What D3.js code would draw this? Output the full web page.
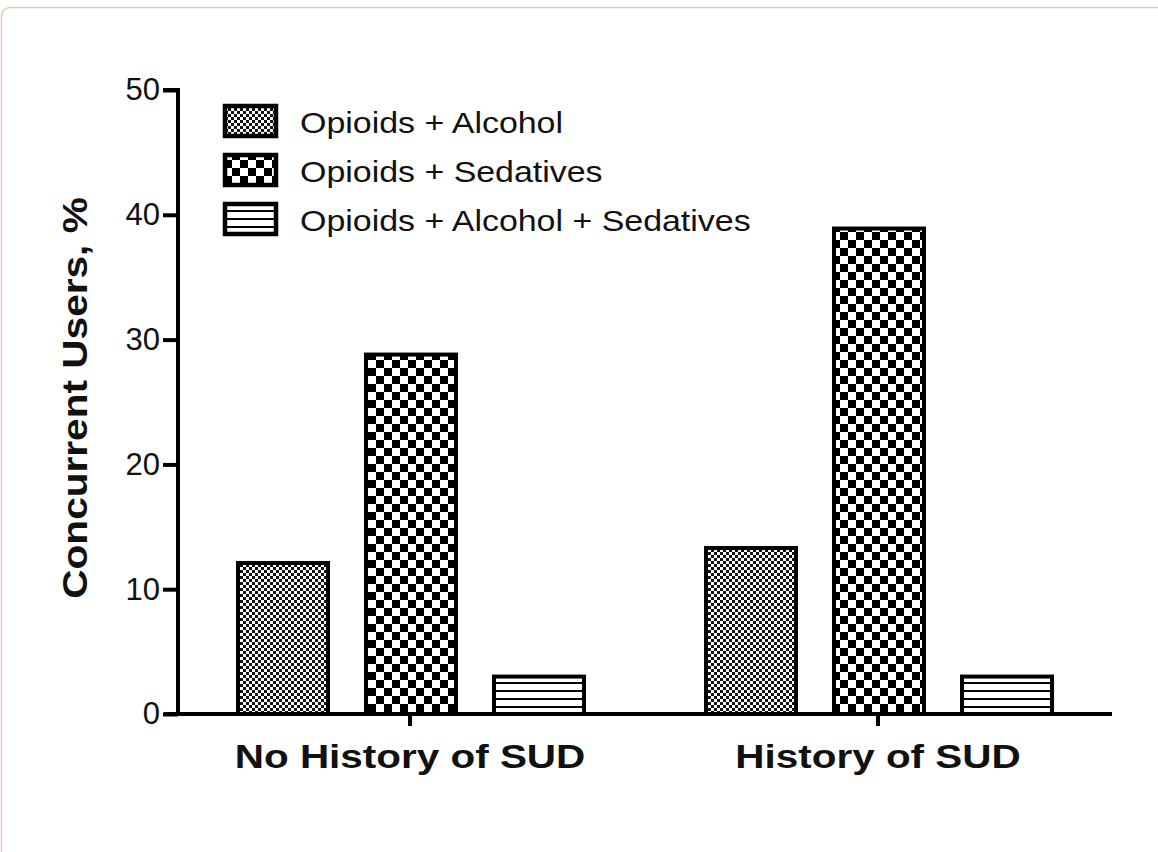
<!DOCTYPE html>
<html><head><meta charset="utf-8">
<script src="https://cdn.jsdelivr.net/npm/d3@7"></script>
<style>body{margin:0;background:#fff;} svg{display:block;font-family:"Liberation Sans",Arial,sans-serif;}</style>
</head><body>
<svg id="c" width="1158" height="852"></svg>
<script>
const categories = ["No History of SUD", "History of SUD"];
const seriesNames = ["Opioids + Alcohol", "Opioids + Sedatives", "Opioids + Alcohol + Sedatives"];
const opioidsAlcohol = [12.1, 13.3];
const opioidsSedatives = [28.8, 38.9];
const opioidsAlcoholSedatives = [3.0, 3.0];
const yTicks = [0, 10, 20, 30, 40, 50];
const series = [opioidsAlcohol, opioidsSedatives, opioidsAlcoholSedatives];

const svg = d3.select("#c");
const defs = svg.append("defs");
// fine checker
const p1 = defs.append("pattern").attr("id","pat0").attr("patternUnits","userSpaceOnUse").attr("width",6).attr("height",6);
p1.append("rect").attr("width",6).attr("height",6).attr("fill","#fff");
p1.append("rect").attr("width",3).attr("height",3).attr("fill","#111");
p1.append("rect").attr("x",3).attr("y",3).attr("width",3).attr("height",3).attr("fill","#111");
// coarse checker
const p2 = defs.append("pattern").attr("id","pat1").attr("patternUnits","userSpaceOnUse").attr("width",16).attr("height",16);
p2.append("rect").attr("width",16).attr("height",16).attr("fill","#fff");
p2.append("rect").attr("width",8).attr("height",8).attr("fill","#000");
p2.append("rect").attr("x",8).attr("y",8).attr("width",8).attr("height",8).attr("fill","#000");
// stripes
const p3 = defs.append("pattern").attr("id","pat2").attr("patternUnits","userSpaceOnUse").attr("width",8).attr("height",8).attr("y",2);
p3.append("rect").attr("width",8).attr("height",8).attr("fill","#fff");
p3.append("rect").attr("y",0).attr("width",8).attr("height",2).attr("fill","#000");

// frame
svg.append("path").attr("d","M1.5,852 L1.5,17 Q1.5,7.5 11,7.5 L1158,7.5").attr("fill","none").attr("stroke","#efc6b4").attr("stroke-width",1.5);

const x0 = 178, yZero = 714, yTop = 90;
const y = d3.scaleLinear().domain([0,50]).range([yZero, yTop]);
const x = d3.scaleBand().domain(categories).range([176, 1112]).padding(0);
const xs = d3.scaleBand().domain(d3.range(3)).range([62, 408]).paddingInner(38/128).paddingOuter(0);

// bars
categories.forEach((c, ci) => {
  series.forEach((s, si) => {
    svg.append("rect")
      .attr("x", x(c) + xs(si))
      .attr("y", y(s[ci]))
      .attr("width", xs.bandwidth())
      .attr("height", yZero - y(s[ci]))
      .attr("fill", `url(#pat${si})`)
      .attr("stroke", "#000").attr("stroke-width", 4);
  });
});

// y axis
const yAxis = d3.axisLeft(y).tickValues(yTicks).tickSize(15).tickPadding(3);
const ga = svg.append("g").attr("transform",`translate(${x0},0)`).call(yAxis);
ga.select(".domain").attr("stroke-width",4).attr("d",`M-15,${yTop}H0V${yZero}`);
ga.selectAll(".tick line").attr("stroke-width",4);
ga.selectAll(".tick text").attr("font-size",31).attr("fill","#111").attr("font-family","Liberation Sans, Arial");

// x axis
const xAxis = d3.axisBottom(x).tickSize(12).tickPadding(16);
const gx = svg.append("g").attr("transform",`translate(0,${yZero})`).call(xAxis);
gx.select(".domain").attr("stroke-width",4).attr("d",`M164,0H1112`);
gx.selectAll(".tick line").attr("stroke-width",4);
gx.selectAll(".tick text").attr("font-size",34).attr("font-weight","bold").attr("fill","#111")
  .attr("font-family","Liberation Sans, Arial")
  .attr("y",0).attr("dy",0).attr("transform","translate(0,54) scale(1.19,1)");

// y title
svg.append("text").attr("transform","translate(87,398) rotate(-90) scale(1.16,1)")
  .attr("text-anchor","middle").attr("font-size",35).attr("font-weight","bold").attr("fill","#111")
  .text("Concurrent Users, %");

// legend
const lg = svg.append("g");
seriesNames.forEach((n, i) => {
  const ly = 104 + i*49;
  lg.append("rect").attr("x",225).attr("y",ly+2).attr("width",51).attr("height",30)
    .attr("fill",`url(#pat${i})`).attr("stroke","#000").attr("stroke-width",4.5);
  lg.append("text").attr("transform",`translate(300,${ly+29}) scale(1.17,1)`)
    .attr("font-size",29).attr("fill","#111").text(n);
});
</script>
</body></html>
